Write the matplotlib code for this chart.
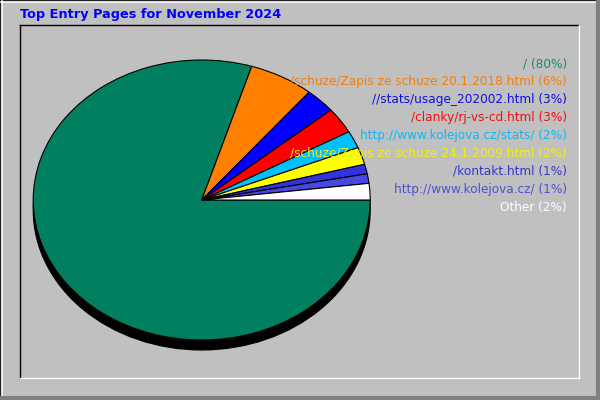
import matplotlib
matplotlib.use("Agg")
import matplotlib.pyplot as plt
from matplotlib.patches import Ellipse

# ---- data ----
title = "Top Entry Pages for November 2024"
pages = ["/", "/schuze/Zapis ze schuze 20.1.2018.html", "//stats/usage_202002.html",
         "/clanky/rj-vs-cd.html", "http://www.kolejova.cz/stats/",
         "/schuze/Zapis ze schuze 24.1.2009.html", "/kontakt.html",
         "http://www.kolejova.cz/", "Other"]
percent = [79.8, 6.2, 2.9, 3.0, 2.0, 2.0, 1.1, 1.1, 1.9]
slice_colors = ["#008060", "#FF8000", "#0000FF", "#FF0000", "#00C0FF",
                "#FFFF00", "#3333DD", "#4848E0", "#FFFFFF"]
text_colors = ["#1A8A6A", "#F08010", "#1010E0", "#F01010", "#10B8F0",
               "#F0F010", "#3838C8", "#5050D0", "#FFFFFF"]

W, H = 600, 400
fig = plt.figure(figsize=(6, 4), dpi=100)
fig.patch.set_facecolor("#C0C0C0")

# pie axes: full figure, units scaled so radius 1 -> ellipse rx, ry in px
cx, cy, rx, ry = 201.7, 200.0, 168.5, 140.0
axp = fig.add_axes([0, 0, 1, 1])
axp.set_facecolor("none")
wedges, _ = axp.pie(percent, colors=slice_colors, startangle=0, counterclock=False,
                    radius=1.0, wedgeprops=dict(edgecolor="black", linewidth=0.8))
for w in wedges:
    w.set_zorder(3)
shadow = Ellipse((0, -10.0 / ry), 2.0, 2.0, facecolor="black", edgecolor="black",
                 linewidth=0.8, zorder=2)
axp.add_patch(shadow)
axp.set_aspect("auto")
axp.set_xlim(-cx / rx, (W - cx) / rx)
axp.set_ylim(-(H - cy) / ry, cy / ry)
axp.axis("off")

# overlay axes in pixel coordinates
ax = fig.add_axes([0, 0, 1, 1], zorder=5)
ax.set_xlim(0, W)
ax.set_ylim(H, 0)
ax.axis("off")
ax.set_facecolor("none")

# outer bevel
ax.plot([0.5, 0.5], [0, H], color="black", lw=1.2)
ax.plot([0, W], [0.5, 0.5], color="black", lw=1.2)
ax.plot([2, 2], [1, H - 3], color="white", lw=1.2)
ax.plot([1, W - 3], [2, 2], color="white", lw=1.2)
ax.plot([W - 2, W - 2], [1, H], color="#808080", lw=3)
ax.plot([0, W], [H - 2, H - 2], color="#808080", lw=3)
# inner frame
ax.plot([20, 20], [25, 378], color="black", lw=1)
ax.plot([20, 579], [25, 25], color="black", lw=1)
ax.plot([579, 579], [25, 378], color="white", lw=1)
ax.plot([20, 579], [378, 378], color="white", lw=1)

ax.text(20, 14.5, title, color="#0000FF", fontsize=9.3, fontweight="bold",
        ha="left", va="center", family="DejaVu Sans")

for i, (p, v, c) in enumerate(zip(pages, percent, text_colors)):
    ax.text(567, 64 + i * 17.9, f"{p} ({round(v):d}%)", color=c, fontsize=8.7,
            ha="right", va="center", family="DejaVu Sans")

fig.savefig("out.png", dpi=100, facecolor=fig.get_facecolor())
